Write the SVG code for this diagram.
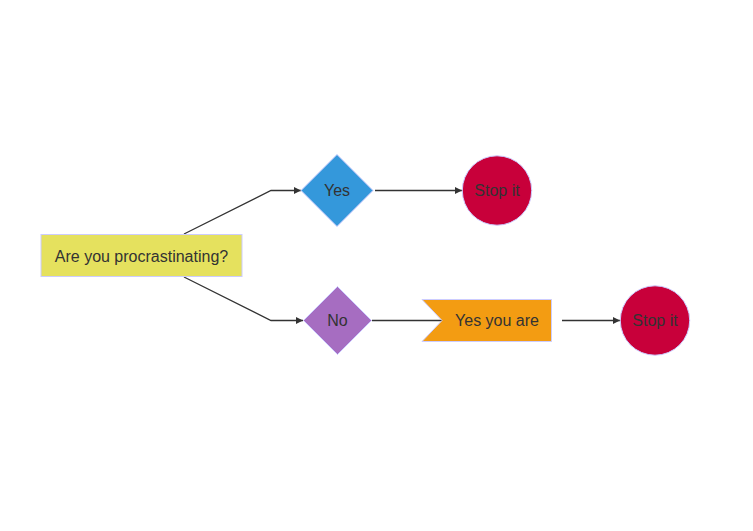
<svg xmlns="http://www.w3.org/2000/svg" width="753" height="531" viewBox="0 0 753 531">
<defs>
<style>
.node{stroke:#ccccff;stroke-width:1}
.lbl{font-family:"Liberation Sans",Arial,sans-serif;font-size:16px;fill:#333;text-anchor:middle;dominant-baseline:central}
.edge{fill:none;stroke:#333;stroke-width:1.3}
</style>
<marker id="arrow" viewBox="0 0 10 10" refX="10" refY="5" markerWidth="7" markerHeight="7" markerUnits="userSpaceOnUse" orient="auto">
<path d="M0,0 L10,5 L0,10 z" fill="#333"/>
</marker>
</defs>
<rect width="753" height="531" fill="#ffffff"/>
<g id="connectors">
<path class="edge" d="M184,234 L271,190.5 L301,190.5" marker-end="url(#arrow)"/>
<path class="edge" d="M184,277 L271,320.5 L303,320.5" marker-end="url(#arrow)"/>
<path class="edge" d="M375,190.5 L462,190.5" marker-end="url(#arrow)"/>
<path class="edge" d="M372,320.5 L442,320.5"/>
<path class="edge" d="M562,320.5 L620,320.5" marker-end="url(#arrow)"/>
</g>
<g id="question">
<rect class="node" x="41" y="234.5" width="201" height="42" fill="#e5e15e"/>
<text class="lbl" x="141.5" y="256">Are you procrastinating?</text>
</g>
<g id="yes">
<polygon class="node" points="337,154.5 373,190.5 337,226.5 301,190.5" fill="#3498db"/>
<text class="lbl" x="337" y="190.5">Yes</text>
</g>
<g id="no">
<polygon class="node" points="337.5,286.5 371.5,320.5 337.5,354.5 303.5,320.5" fill="#a66dc1"/>
<text class="lbl" x="337.5" y="320.5">No</text>
</g>
<g id="stop1">
<circle class="node" cx="497" cy="190.5" r="34.7" fill="#c8003a"/>
<text class="lbl" x="497" y="190.5">Stop it</text>
</g>
<g id="yesyouare">
<polygon class="node" points="422,299.5 551.5,299.5 551.5,341.5 422,341.5 442,320.5" fill="#f39c12"/>
<text class="lbl" x="497" y="320.5">Yes you are</text>
</g>
<g id="stop2">
<circle class="node" cx="655" cy="320.5" r="34.7" fill="#c8003a"/>
<text class="lbl" x="655" y="320.5">Stop it</text>
</g>
</svg>
